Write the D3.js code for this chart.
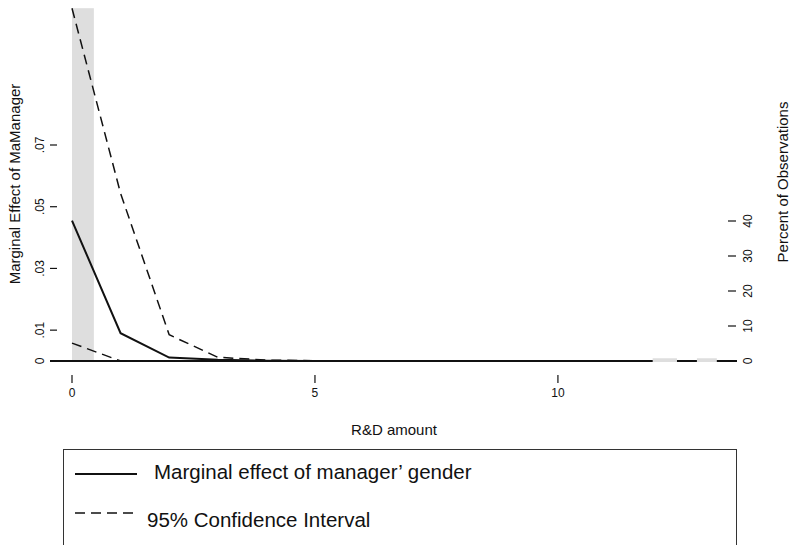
<!DOCTYPE html>
<html><head><meta charset="utf-8">
<script src="https://cdn.jsdelivr.net/npm/d3@7"></script>
<style>body{margin:0;background:#fff}svg{display:block;font-family:"Liberation Sans",Arial,Helvetica,sans-serif}</style>
</head><body>
<script>
// R&D amount (x) and estimates
const rdAmount   = [0, 1, 2, 3, 4, 5, 6, 7, 8, 9, 10, 11, 12, 13, 13.5];
const marginal   = [0.0455, 0.0090, 0.0011, 0.0004, 0.0001, 0, 0, 0, 0, 0, 0, 0, 0, 0, 0];
const upperCI    = [0.1143, 0.0543, 0.0085, 0.0012, 0.0003, 0.0001, 0, 0, 0, 0, 0, 0, 0, 0, 0];
const lowerCI    = [0.0058, 0.0000, -0.0001, -0.0001, 0, 0, 0, 0, 0, 0, 0, 0, 0, 0, 0];
// histogram of observations (percent)
const histStart  = [0, 11.95, 12.86];
const histEnd    = [0.45, 12.45, 13.27];
const histPct    = [100.8, 0.5, 0.5];
// axis ticks
const yTicks     = [0, 0.01, 0.03, 0.05, 0.07];
const yTickLbls  = ["0", ".01", ".03", ".05", ".07"];
const xTicks     = [0, 5, 10];
const y2Ticks    = [0, 10, 20, 30, 40];
const legendLbls = ["Marginal effect of manager\u2019 gender", "95% Confidence Interval"];

const W = 791, H = 545;
const svg = d3.select("body").append("svg").attr("width", W).attr("height", H);

const x = d3.scaleLinear().domain([0, 13.5]).range([72, 728]);
const y = d3.scaleLinear().domain([0, 0.07]).range([361, 145]);
const y2 = d3.scaleLinear().domain([0, 40]).range([361, 221]);

const hist = histPct.map((p, i) => ({x0: histStart[i], x1: histEnd[i], pct: p}));

// large histogram bars behind the lines
svg.append("g").selectAll("rect").data(hist.filter(d => d.pct > 5)).join("rect")
  .attr("x", d => x(d.x0)).attr("width", d => x(d.x1) - x(d.x0))
  .attr("y", d => y2(d.pct)).attr("height", d => y2(0) - y2(d.pct))
  .attr("fill", "#dedede");

// zero line
svg.append("line").attr("x1", 50).attr("x2", 737).attr("y1", y(0)).attr("y2", y(0))
  .attr("stroke", "#111").attr("stroke-width", 2);

const mk = vals => d3.line().x((d, i) => x(rdAmount[i])).y(d => y(d))(vals);
svg.append("path").attr("d", mk(upperCI)).attr("fill", "none").attr("stroke", "#111")
  .attr("stroke-width", 1.5).attr("stroke-dasharray", "10,6");
svg.append("path").attr("d", mk(lowerCI)).attr("fill", "none").attr("stroke", "#111")
  .attr("stroke-width", 1.5).attr("stroke-dasharray", "10,6");
svg.append("path").attr("d", mk(marginal)).attr("fill", "none").attr("stroke", "#111")
  .attr("stroke-width", 2);

// small histogram bars drawn on top so they stay visible
svg.append("g").selectAll("rect").data(hist.filter(d => d.pct <= 5)).join("rect")
  .attr("x", d => x(d.x0)).attr("width", d => x(d.x1) - x(d.x0))
  .attr("y", d => y2(d.pct) - 1).attr("height", d => y2(0) - y2(d.pct) + 2)
  .attr("fill", "#dedede");

// left axis
const gl = svg.append("g");
yTicks.forEach((t, i) => {
  gl.append("line").attr("x1", 50).attr("x2", 57).attr("y1", y(t)).attr("y2", y(t))
    .attr("stroke", "#111").attr("stroke-width", 1.2);
  gl.append("text").attr("transform", `translate(44,${y(t)}) rotate(-90)`)
    .attr("text-anchor", "middle").attr("font-size", 12).attr("fill", "#111").text(yTickLbls[i]);
});
svg.append("text").attr("transform", `translate(20,184) rotate(-90)`)
  .attr("text-anchor", "middle").attr("font-size", 15).attr("fill", "#111")
  .text("Marginal Effect of MaManager");

// right axis
y2Ticks.forEach(t => {
  svg.append("line").attr("x1", 728).attr("x2", 736).attr("y1", y2(t)).attr("y2", y2(t))
    .attr("stroke", "#111").attr("stroke-width", 1.2);
  svg.append("text").attr("transform", `translate(752,${y2(t)}) rotate(-90)`)
    .attr("text-anchor", "middle").attr("font-size", 12).attr("fill", "#111").text(t);
});
svg.append("text").attr("transform", `translate(788,182) rotate(-90)`)
  .attr("text-anchor", "middle").attr("font-size", 15).attr("fill", "#111")
  .text("Percent of Observations");

// bottom axis
xTicks.forEach(t => {
  svg.append("line").attr("x1", x(t)).attr("x2", x(t)).attr("y1", 375).attr("y2", 383)
    .attr("stroke", "#111").attr("stroke-width", 1.2);
  svg.append("text").attr("x", x(t)).attr("y", 397).attr("text-anchor", "middle")
    .attr("font-size", 12).attr("fill", "#111").text(t);
});
svg.append("text").attr("x", 394).attr("y", 435).attr("text-anchor", "middle")
  .attr("font-size", 15).attr("fill", "#111").text("R&D amount");

// legend
svg.append("rect").attr("x", 63.5).attr("y", 449.5).attr("width", 673).attr("height", 120)
  .attr("fill", "none").attr("stroke", "#333").attr("stroke-width", 1);
svg.append("line").attr("x1", 75).attr("x2", 137).attr("y1", 474).attr("y2", 474)
  .attr("stroke", "#111").attr("stroke-width", 2);
svg.append("text").attr("x", 154).attr("y", 479).attr("font-size", 20.5).attr("fill", "#111").text(legendLbls[0]);
svg.append("line").attr("x1", 75).attr("x2", 137).attr("y1", 513).attr("y2", 513)
  .attr("stroke", "#111").attr("stroke-width", 1.3).attr("stroke-dasharray", "10,6");
svg.append("text").attr("x", 147).attr("y", 527).attr("font-size", 20.5).attr("fill", "#111").text(legendLbls[1]);
</script>
</body></html>
